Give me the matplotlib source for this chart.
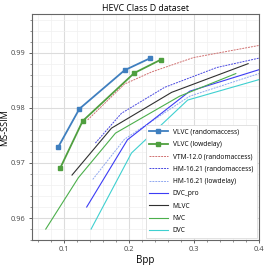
import matplotlib
matplotlib.use("Agg")
import matplotlib.pyplot as plt
from matplotlib.ticker import MultipleLocator

plt.rcParams["font.family"] = ["Open Sans", "DejaVu Sans"]

# values (bpp, ms-ssim)
vlvc_ra_bpp = [0.0907, 0.1232, 0.1928, 0.2325]
vlvc_ra_ssim = [0.9729, 0.9798, 0.9868, 0.9890]
vlvc_ld_bpp = [0.0934, 0.1283, 0.2078, 0.2484]
vlvc_ld_ssim = [0.9690, 0.9776, 0.9863, 0.9887]
vtm_bpp = [0.1360, 0.1928, 0.2346, 0.2990, 0.4000]
vtm_ssim = [0.9778, 0.9843, 0.9865, 0.9891, 0.9913]
hm_ra_bpp = [0.1479, 0.1881, 0.2546, 0.3350, 0.4000]
hm_ra_ssim = [0.9736, 0.9790, 0.9837, 0.9873, 0.9890]
hm_ld_bpp = [0.1438, 0.1928, 0.2933, 0.4000]
hm_ld_ssim = [0.9670, 0.9743, 0.9821, 0.9862]
dvcpro_bpp = [0.1345, 0.1974, 0.2933, 0.4000]
dvcpro_ssim = [0.9620, 0.9742, 0.9830, 0.9869]
mlvc_bpp = [0.1119, 0.1727, 0.2655, 0.3834]
mlvc_ssim = [0.9678, 0.9763, 0.9828, 0.9880]
nvc_bpp = [0.0714, 0.1216, 0.1789, 0.2778, 0.3644]
nvc_ssim = [0.9580, 0.9673, 0.9754, 0.9821, 0.9862]
dvc_bpp = [0.1413, 0.2036, 0.2902, 0.4000]
dvc_ssim = [0.9580, 0.9718, 0.9814, 0.9851]

fig = plt.figure(figsize=(2.68, 2.65), dpi=100)
ax = fig.add_axes([0.119, 0.094, 0.847, 0.853])

ax.plot(vlvc_ra_bpp, vlvc_ra_ssim, color="#3f7fbf", lw=1.3, marker="s", ms=3,
        label="VLVC (randomaccess)")
ax.plot(vlvc_ld_bpp, vlvc_ld_ssim, color="#4f9f3f", lw=1.3, marker="s", ms=3,
        label="VLVC (lowdelay)")
ax.plot(vtm_bpp, vtm_ssim, color="#d07070", lw=0.7, ls="--", dashes=(2, 1),
        label="VTM-12.0 (randomaccess)")
ax.plot(hm_ra_bpp, hm_ra_ssim, color="#4848e0", lw=0.7, ls="--", dashes=(2, 1),
        label="HM-16.21 (randomaccess)")
ax.plot(hm_ld_bpp, hm_ld_ssim, color="#90a8f0", lw=0.7, ls="--", dashes=(2, 1),
        label="HM-16.21 (lowdelay)")
ax.plot(dvcpro_bpp, dvcpro_ssim, color="#3c3cf5", lw=0.8, label="DVC_pro")
ax.plot(mlvc_bpp, mlvc_ssim, color="#303030", lw=0.8, label="MLVC")
ax.plot(nvc_bpp, nvc_ssim, color="#4caf4c", lw=0.8, label="NVC")
ax.plot(dvc_bpp, dvc_ssim, color="#3fd0d0", lw=0.8, label="DVC")

ax.set_xlim(0.05, 0.4)
ax.set_ylim(0.956, 0.997)
ax.xaxis.set_minor_locator(MultipleLocator(0.02))
ax.yaxis.set_minor_locator(MultipleLocator(0.002))
ax.set_xticks([0.1, 0.2, 0.3, 0.4])
ax.set_xticklabels(["0.1", "0.2", "0.3", "0.4"])
ax.set_yticks([0.96, 0.97, 0.98, 0.99])
ax.set_yticklabels(["0.96", "0.97", "0.98", "0.99"])

ax.grid(which="major", color="#dcdcdc", lw=0.8)
ax.grid(which="minor", color="#f0f0f0", lw=0.5)
ax.set_axisbelow(True)
ax.tick_params(which="major", labelsize=5.3, length=2.5, width=0.6, pad=2, colors="#444444")
ax.tick_params(which="minor", length=1.5, width=0.5, colors="#666666")
for s in ax.spines.values():
    s.set_color("#666666")
    s.set_linewidth(0.8)

ax.set_title("HEVC Class D dataset", fontsize=6.3, pad=2)
ax.set_xlabel("Bpp", fontsize=7, labelpad=1)
ax.set_ylabel("MS-SSIM", fontsize=6.6)
ax.yaxis.set_label_coords(-0.1, 0.5)

leg = ax.legend(loc="lower right", fontsize=4.8, handlelength=2.8, labelspacing=0.8,
                borderpad=0.5, handletextpad=0.8, framealpha=1, fancybox=False,
                edgecolor="#dddddd", borderaxespad=0.35)
leg.get_frame().set_linewidth(0.6)

fig.savefig("out.png", dpi=100)
